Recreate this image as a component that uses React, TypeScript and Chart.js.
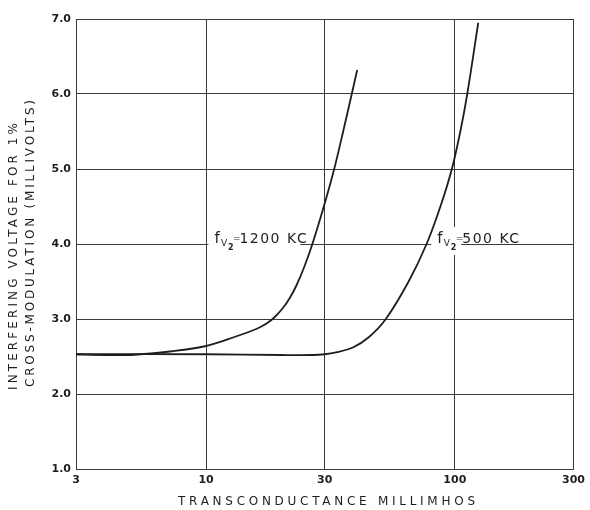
import React, { useEffect, useRef } from 'react';
import { Chart, registerables } from 'chart.js';

Chart.register(...registerables);

// Transconductance (millimhos) and interfering voltage (millivolts) for each curve
const gm1200 = [3, 4, 5, 7.3, 10, 13, 16, 17.5, 18.8, 20.4, 21.7, 23.1, 24.85, 26.75, 29.86, 32.74, 35.57, 38.52, 40.5];
const volts1200 = [2.53, 2.52, 2.52, 2.57, 2.64, 2.76, 2.87, 2.94, 3.02, 3.15, 3.28, 3.45, 3.7, 4.0, 4.52, 5.0, 5.5, 6.0, 6.32];

const gm500 = [3, 10, 20, 27, 30, 33.3, 38.9, 45.2, 52.8, 65.2, 77.0, 87.5, 97.3, 105.2, 112.2, 124.2];
const volts500 = [2.53, 2.53, 2.52, 2.52, 2.53, 2.555, 2.62, 2.76, 3.0, 3.5, 4.0, 4.5, 5.0, 5.5, 6.0, 6.95];

const xTickValues = [3, 10, 30, 100, 300];
const yMin = 1;
const yMax = 7;

const xTitle = 'TRANSCONDUCTANCE MILLIMHOS';
const yTitleLines = ['INTERFERING VOLTAGE FOR 1%', 'CROSS-MODULATION (MILLIVOLTS)'];

// curve labels: frequency text, anchor in data units
const curveLabels = [
  { freq: '1200 KC', gm: 10.8, volts: 4.0, gap: 92 },
  { freq: '500 KC', gm: 85, volts: 4.0, gap: 30 },
];

const FONT = '"DejaVu Sans", sans-serif';
const INK = '#1e1e1e';
const GRID = '#3a3a3a';

function drawSpaced(ctx: CanvasRenderingContext2D, text: string, cx: number, baseline: number, width: number) {
  const w0 = ctx.measureText(text).width;
  const n = text.length;
  const sp = n > 1 ? (width - w0) / (n - 1) : 0;
  const anyCtx = ctx as any;
  if ('letterSpacing' in anyCtx) {
    anyCtx.letterSpacing = sp + 'px';
    ctx.textAlign = 'left';
    ctx.fillText(text, cx - width / 2, baseline);
    anyCtx.letterSpacing = '0px';
  } else {
    ctx.textAlign = 'center';
    ctx.fillText(text, cx, baseline);
  }
}

const annotPlugin = {
  id: 'annot',
  beforeDraw(chart: any) {
    const { ctx, width, height } = chart;
    ctx.save();
    ctx.fillStyle = '#ffffff';
    ctx.fillRect(0, 0, width, height);
    ctx.restore();
  },
  beforeDatasetsDraw(chart: any) {
    const { ctx } = chart;
    const xs = chart.scales.x;
    const ys = chart.scales.y;
    ctx.save();
    for (const lab of curveLabels) {
      const fx = xs.getPixelForValue(lab.gm);
      const by = ys.getPixelForValue(lab.volts) - 1;
      // white gap behind label
      ctx.fillStyle = '#ffffff';
      ctx.fillRect(fx - 6, by - 16, lab.gap, 28);
      ctx.fillStyle = INK;
      ctx.textBaseline = 'alphabetic';
      ctx.textAlign = 'left';
      ctx.font = `15px ${FONT}`;
      ctx.fillText('f', fx, by);
      ctx.font = `9px ${FONT}`;
      ctx.fillText('V', fx + 6.5, by + 3);
      ctx.font = `bold 8px ${FONT}`;
      ctx.fillText('2', fx + 13.5, by + 7);
      ctx.font = `9px ${FONT}`;
      ctx.fillText('=', fx + 18.5, by - 2);
      ctx.font = `14px ${FONT}`;
      const anyCtx = ctx as any;
      if ('letterSpacing' in anyCtx) anyCtx.letterSpacing = '1.5px';
      ctx.fillText(lab.freq, fx + 25, by);
      if ('letterSpacing' in anyCtx) anyCtx.letterSpacing = '0px';
    }
    ctx.restore();
  },
  afterDraw(chart: any) {
    const { ctx } = chart;
    ctx.save();
    ctx.fillStyle = INK;
    ctx.textBaseline = 'alphabetic';
    // x title
    ctx.font = `12px ${FONT}`;
    drawSpaced(ctx, xTitle, 326.5, 505, 297);
    // y title lines (rotated)
    const yLines = [
      { text: yTitleLines[0], bx: 16.8, cy: 256.5, w: 267 },
      { text: yTitleLines[1], bx: 34.3, cy: 243.5, w: 287 },
    ];
    for (const l of yLines) {
      ctx.save();
      ctx.translate(l.bx, l.cy);
      ctx.rotate(-Math.PI / 2);
      ctx.font = `12px ${FONT}`;
      drawSpaced(ctx, l.text, 0, 0, l.w);
      ctx.restore();
    }
    ctx.restore();
  },
};

export default function App() {
  const ref = useRef<HTMLCanvasElement>(null);
  useEffect(() => {
    const canvas = ref.current;
    if (!canvas) return;
    const chart = new Chart(canvas, {
      type: 'line',
      data: {
        datasets: [
          {
            label: 'fV2 = 1200 KC',
            data: gm1200.map((x, i) => ({ x, y: volts1200[i] })),
            borderColor: INK,
            borderWidth: 1.8,
            pointRadius: 0,
            fill: false,
            tension: 0.35,
            clip: false as any,
          },
          {
            label: 'fV2 = 500 KC',
            data: gm500.map((x, i) => ({ x, y: volts500[i] })),
            borderColor: INK,
            borderWidth: 1.8,
            pointRadius: 0,
            fill: false,
            tension: 0.35,
            clip: false as any,
          },
        ],
      },
      options: {
        responsive: false,
        animation: false,
        layout: { padding: { top: 19, right: 13, left: 0, bottom: 0 } },
        plugins: { legend: { display: false }, tooltip: { enabled: false } },
        scales: {
          x: {
            type: 'logarithmic',
            min: xTickValues[0],
            max: xTickValues[xTickValues.length - 1],
            afterBuildTicks: (scale: any) => {
              scale.ticks = xTickValues.map((v) => ({ value: v }));
            },
            afterFit: (scale: any) => {
              scale.height = 41;
            },
            grid: { color: GRID, lineWidth: 1, drawTicks: false },
            border: { color: GRID, width: 1 },
            ticks: {
              autoSkip: false,
              maxRotation: 0,
              padding: 5,
              color: INK,
              font: { family: FONT, size: 11, weight: 'bold' },
              callback: (v: any) => String(v),
            },
          },
          y: {
            type: 'linear',
            min: yMin,
            max: yMax,
            afterFit: (scale: any) => {
              scale.width = 76;
            },
            grid: { color: GRID, lineWidth: 1, drawTicks: false },
            border: { color: GRID, width: 1 },
            ticks: {
              stepSize: 1,
              padding: 5,
              color: INK,
              font: { family: FONT, size: 11, weight: 'bold' },
              callback: (v: any) => Number(v).toFixed(1),
            },
          },
        },
      },
      plugins: [annotPlugin],
    } as any);
    return () => chart.destroy();
  }, []);
  return (
    <canvas
      ref={ref}
      width={590}
      height={510}
      style={{ position: 'absolute', left: 0, top: 0, display: 'block' }}
    />
  );
}
